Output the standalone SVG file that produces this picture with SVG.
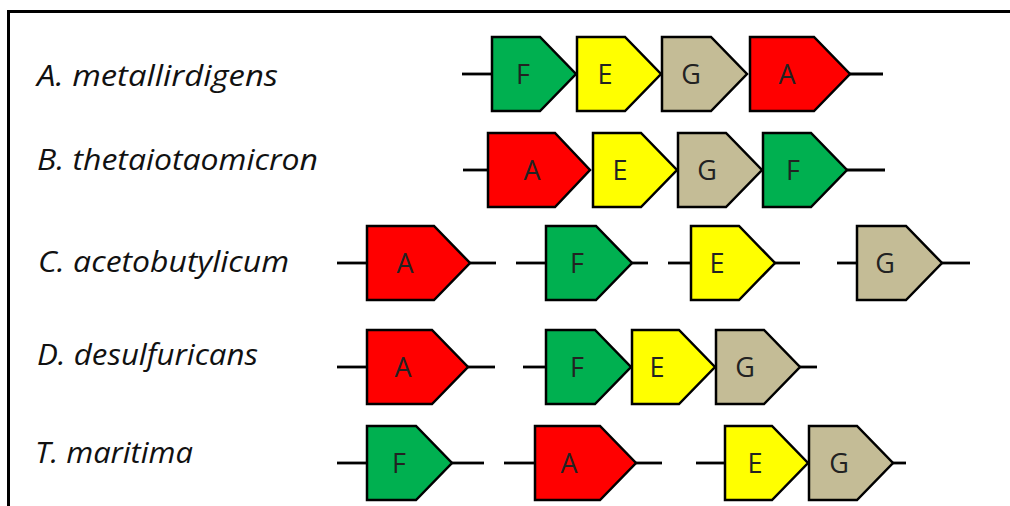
<svg xmlns="http://www.w3.org/2000/svg" width="1010" height="506" viewBox="0 0 1010 506">
<style>
.lbl{font-family:"Open Sans","Liberation Sans",sans-serif;font-style:italic;font-size:30px;fill:#111}
.gl{font-family:"Open Sans","Liberation Sans",sans-serif;font-size:27px;fill:#222;text-anchor:middle}
.g path{stroke:#000;stroke-width:2.5;stroke-linejoin:miter}
.gr{fill:#00B050}.ye{fill:#FFFF00}.ta{fill:#C4BC96}.re{fill:#FF0000}
.con line{stroke:#000;stroke-width:2.8}
.frame{stroke:#000;stroke-width:3;fill:none}
</style>
<rect width="1010" height="506" fill="#fff"/>
<path class="frame" d="M8.5 506 V11.5 H1010"/>
<g id="labels">
<text class="lbl" x="37" y="86" textLength="241" lengthAdjust="spacingAndGlyphs">A. metallirdigens</text>
<text class="lbl" x="37" y="170" textLength="281" lengthAdjust="spacingAndGlyphs">B. thetaiotaomicron</text>
<text class="lbl" x="38" y="272" textLength="251" lengthAdjust="spacingAndGlyphs">C. acetobutylicum</text>
<text class="lbl" x="37" y="365" textLength="221" lengthAdjust="spacingAndGlyphs">D. desulfuricans</text>
<text class="lbl" x="35" y="463" textLength="158" lengthAdjust="spacingAndGlyphs">T. maritima</text>
</g>
<g class="con" id="connectors">
<line x1="462" y1="74" x2="492" y2="74"/><line x1="850" y1="74" x2="883" y2="74"/>
<line x1="463" y1="170" x2="488" y2="170"/><line x1="847" y1="170" x2="885" y2="170"/>
<line x1="337" y1="263" x2="367" y2="263"/><line x1="470" y1="263" x2="496" y2="263"/>
<line x1="516" y1="263" x2="546" y2="263"/><line x1="632" y1="263" x2="648" y2="263"/>
<line x1="668" y1="263" x2="691" y2="263"/><line x1="775" y1="263" x2="800" y2="263"/>
<line x1="837" y1="263" x2="857" y2="263"/><line x1="942" y1="263" x2="970" y2="263"/>
<line x1="337" y1="367" x2="367" y2="367"/><line x1="468" y1="367" x2="495" y2="367"/>
<line x1="523" y1="367" x2="546" y2="367"/><line x1="800" y1="367" x2="817" y2="367"/>
<line x1="337" y1="463" x2="367" y2="463"/><line x1="452" y1="463" x2="484" y2="463"/>
<line x1="504" y1="463" x2="535" y2="463"/><line x1="636" y1="463" x2="662" y2="463"/>
<line x1="696" y1="463" x2="725" y2="463"/><line x1="893" y1="463" x2="906" y2="463"/>
</g>
<!-- Row 1 -->
<g class="g" id="r1-F"><path class="gr" d="M492 37H540L576 74L540 111H492Z"/><text class="gl" x="523" y="84">F</text></g>
<g class="g" id="r1-E"><path class="ye" d="M577 37H625L661 74L625 111H577Z"/><text class="gl" x="605" y="84">E</text></g>
<g class="g" id="r1-G"><path class="ta" d="M662 37H711L747 74L711 111H662Z"/><text class="gl" x="691" y="84">G</text></g>
<g class="g" id="r1-A"><path class="re" d="M750 37H814L850 74L814 111H750Z"/><text class="gl" x="787" y="84">A</text></g>
<!-- Row 2 -->
<g class="g" id="r2-A"><path class="re" d="M488 133H555L590 170L555 207H488Z"/><text class="gl" x="532" y="180">A</text></g>
<g class="g" id="r2-E"><path class="ye" d="M593 133H641L677 170L641 207H593Z"/><text class="gl" x="620" y="180">E</text></g>
<g class="g" id="r2-G"><path class="ta" d="M678 133H726L762 170L726 207H678Z"/><text class="gl" x="707" y="180">G</text></g>
<g class="g" id="r2-F"><path class="gr" d="M763 133H811L847 170L811 207H763Z"/><text class="gl" x="793" y="180">F</text></g>
<!-- Row 3 -->
<g class="g" id="r3-A"><path class="re" d="M367 226H434L470 263L434 300H367Z"/><text class="gl" x="405" y="273">A</text></g>
<g class="g" id="r3-F"><path class="gr" d="M546 226H596L632 263L596 300H546Z"/><text class="gl" x="577" y="273">F</text></g>
<g class="g" id="r3-E"><path class="ye" d="M691 226H739L775 263L739 300H691Z"/><text class="gl" x="717" y="273">E</text></g>
<g class="g" id="r3-G"><path class="ta" d="M857 226H906L942 263L906 300H857Z"/><text class="gl" x="885" y="273">G</text></g>
<!-- Row 4 -->
<g class="g" id="r4-A"><path class="re" d="M367 330H432L468 367L432 404H367Z"/><text class="gl" x="403" y="377">A</text></g>
<g class="g" id="r4-F"><path class="gr" d="M546 330H595L631 367L595 404H546Z"/><text class="gl" x="577" y="377">F</text></g>
<g class="g" id="r4-E"><path class="ye" d="M632 330H679L715 367L679 404H632Z"/><text class="gl" x="657" y="377">E</text></g>
<g class="g" id="r4-G"><path class="ta" d="M716 330H764L800 367L764 404H716Z"/><text class="gl" x="745" y="377">G</text></g>
<!-- Row 5 -->
<g class="g" id="r5-F"><path class="gr" d="M367 426H416L452 463L416 500H367Z"/><text class="gl" x="399" y="473">F</text></g>
<g class="g" id="r5-A"><path class="re" d="M535 426H600L636 463L600 500H535Z"/><text class="gl" x="569" y="473">A</text></g>
<g class="g" id="r5-E"><path class="ye" d="M725 426H772L808 463L772 500H725Z"/><text class="gl" x="755" y="473">E</text></g>
<g class="g" id="r5-G"><path class="ta" d="M809 426H857L893 463L857 500H809Z"/><text class="gl" x="839" y="473">G</text></g>
</svg>
